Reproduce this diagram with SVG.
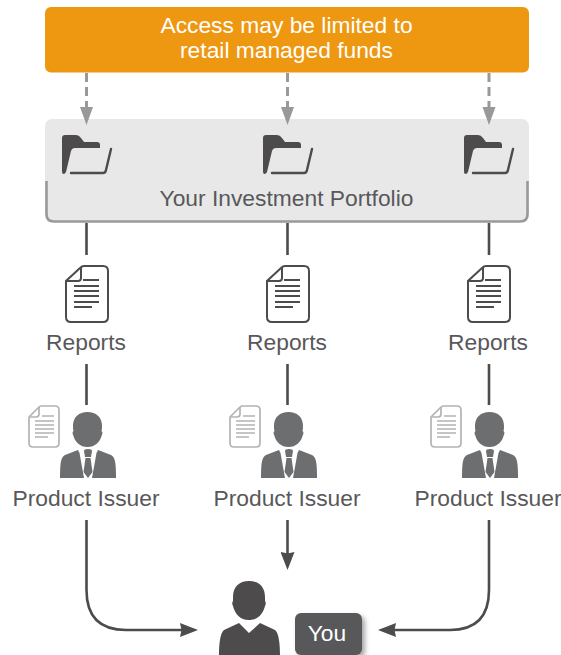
<svg xmlns="http://www.w3.org/2000/svg" xmlns:xlink="http://www.w3.org/1999/xlink" width="561" height="655" viewBox="0 0 561 655">
<style>
text{font-family:"Liberation Sans",Arial,sans-serif;font-size:22.8px;fill:#58585a;text-anchor:middle}
.w{fill:#fff}
.line{fill:none;stroke:#4d4b4c;stroke-width:2.6}
.dash{fill:none;stroke:#999;stroke-width:3;stroke-dasharray:9 5 9 5 9 60}
.docline{stroke:#4d4b4c;stroke-width:2;fill:none}
</style>
<defs>
<marker id="ah" markerUnits="userSpaceOnUse" markerWidth="20" markerHeight="14" refX="14" refY="7" orient="auto"><path d="M0 0L18 7L0 14L1.500 7Z" fill="#4d4b4c"/></marker>
<marker id="ahd" markerUnits="userSpaceOnUse" markerWidth="18" markerHeight="14" refX="14" refY="6.5" orient="auto"><path d="M0 0L18 6.5L0 13Z" fill="#999"/></marker>
<filter id="sh" x="-20%" y="-20%" width="150%" height="150%"><feDropShadow dx="3" dy="3" stdDeviation="2.5" flood-color="#000" flood-opacity=".35"/></filter>
<g id="folder">
<path d="M0 3Q0 0 3 0H14Q17 0 19 3L22 7H35Q38 7 38 10V13H13Q10 13 9 16L4 37Q3 39 1.500 39Q0 39 0 36Z" fill="#4d4b4c"/>
<path d="M49 14L44 35Q43.500 38 41 38H9" fill="none" stroke="#4d4b4c" stroke-width="2.400" stroke-linecap="round"/>
</g>
<g id="doc">
<path d="M19 1H38Q43 1 43 6V52Q43 57 38 57H6Q1 57 1 52V16Q1 16 15 3Q17 1 19 1Z" fill="none" stroke="#4d4b4c" stroke-width="2"/>
<path d="M16 2V13Q16 16 13 16H2" fill="none" stroke="#4d4b4c" stroke-width="2"/>
<path class="docline" d="M18 15H34M9 21H34M9 26H34M9 31H34M9 37H34M9 42H27"/>
</g>
<g id="smalldoc">
<path d="M13 1H27Q31 1 31 5V38Q31 42 27 42H5Q1 42 1 38V12Q1 12 10 3Q12 1 13 1Z" fill="#fff" stroke="#b3b3b3" stroke-width="1.700"/>
<path d="M11 2V9Q11 12 8 12H2" fill="none" stroke="#b3b3b3" stroke-width="1.700"/>
<path d="M14 11H26M7 16H26M7 20H26M7 24H26M7 28H26M7 32H20" stroke="#b3b3b3" stroke-width="1.500" fill="none"/>
</g>
<g id="issuer" fill="#6d6e70">
<path d="M27.500 0C36 0 42 5 42 14C42 16 42 17 41.500 19C43 20 42.500 22 41.500 24C40 30 35 35 27.500 35C20 35 15 30 13.500 24C12.500 22 12 20 13.500 19C13 17 13 16 13 14C13 5 19 0 27.500 0Z"/>
<path d="M18 38L5 43C1 45 0 50 0 66H24L19.500 41Z"/>
<path d="M38 38L51 43C55 45 56 50 56 66H32L36.500 41Z"/>
<path d="M24 39Q24 37 28 37Q32 37 32 39L31 45H25Z"/>
<path d="M25.500 46H30.500L32.500 60L28 66L23.500 60Z"/>
</g>
</defs>
<g id="banner">
<rect x="45" y="7" width="484" height="65.500" rx="6" fill="#ee9711"/>
<text class="w" x="286.500" y="33">Access may be limited to</text>
<text class="w" x="286.500" y="58">retail managed funds</text>
</g>
<g id="portfolio">
<rect x="45" y="119" width="484" height="103" rx="7" fill="#e8e8e9"/>
<path d="M46.500 181V214Q46.500 221.500 54 221.500H520Q527.500 221.500 527.500 214V181" fill="none" stroke="#999" stroke-width="2.600"/>
<use href="#folder" x="62" y="135"/>
<use href="#folder" x="263" y="135"/>
<use href="#folder" x="464" y="135"/>
<text x="286.500" y="206">Your Investment Portfolio</text>
</g>
<g id="reports-1"><use href="#doc" x="65" y="265"/><text x="86" y="350">Reports</text></g>
<g id="reports-2"><use href="#doc" x="266" y="265"/><text x="287" y="350">Reports</text></g>
<g id="reports-3"><use href="#doc" x="467" y="265"/><text x="488" y="350">Reports</text></g>
<g id="issuer-1"><use href="#smalldoc" x="28" y="405"/><use href="#issuer" x="60" y="412"/><text x="86" y="506">Product Issuer</text></g>
<g id="issuer-2"><use href="#smalldoc" x="229" y="405"/><use href="#issuer" x="261" y="412"/><text x="287" y="506">Product Issuer</text></g>
<g id="issuer-3"><use href="#smalldoc" x="430" y="405"/><use href="#issuer" x="462" y="412"/><text x="488" y="506">Product Issuer</text></g>
<g id="you">
<path d="M249 581C259 581 265 587 265 597C265 599 265 600 265 601C266 602 266 604 265 606C263 614 258 620 249 620C240 620 235 614 233 606C232 604 232 602 233 601C233 600 233 599 233 597C233 587 239 581 249 581Z" fill="#4d4b4c"/>
<path d="M239 623L249 633L260 623L275 630C279 633 280 645 280 655H219C219 645 220 633 224 630Z" fill="#4d4b4c"/>
<rect x="295" y="613" width="67" height="42" rx="6" fill="#58585a" filter="url(#sh)"/>
<text class="w" x="327" y="641">You</text>
</g>
<g id="connectors">
<path class="dash" d="M86.500 73V121" marker-end="url(#ahd)"/>
<path class="dash" d="M287.500 73V121" marker-end="url(#ahd)"/>
<path class="dash" d="M489 73V121" marker-end="url(#ahd)"/>
<path class="line" d="M86.500 223V255M287.500 223V255M489 223V255M86.500 364V405M287.500 364V405M489 364V405"/>
<path class="line" d="M86.500 520V590Q86.500 630 126 630H194" marker-end="url(#ah)"/>
<path class="line" d="M287.500 520V566" marker-end="url(#ah)"/>
<path class="line" d="M489 520V590Q489 630 450 630H382" marker-end="url(#ah)"/>
</g>
</svg>
